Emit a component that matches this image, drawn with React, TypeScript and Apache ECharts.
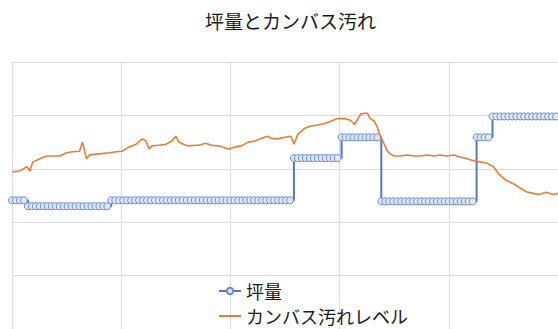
import React, { useEffect, useRef } from "react";
import * as echarts from "echarts";

const titleText = "坪量とカンバス汚れ";
const seriesNames = ["坪量", "カンバス汚れレベル"];

// 坪量: run-length levels (value, number of samples, 4 units apart)
const basisLevels = [24.1, 23.0, 24.1, 32.0, 35.9, 23.9, 35.9, 39.8];
const basisCounts = [4, 21, 46, 12, 10, 24, 4, 18];

// カンバス汚れレベル: [position, value]
const stainX = [
  0, 8, 15, 18, 21, 28, 35, 41, 48, 55, 61, 68, 71, 75, 78, 88, 98, 105, 111, 118,
  125, 131, 135, 138, 141, 148, 155, 161, 165, 168, 175, 178, 185, 188, 195, 201, 208,
  215, 218, 225, 231, 238, 245, 251, 258, 261, 268, 275, 281, 284, 288, 295, 301, 308,
  315, 321, 328, 335, 341, 345, 351, 355, 358, 361, 365, 368, 371, 375, 378, 381, 385,
  391, 398, 405, 411, 418, 425, 431, 438, 445, 451, 458, 465, 471, 478, 485, 491, 498,
  505, 511, 518, 525, 531, 538, 545, 550,
];
const stainY = [
  29.4, 29.6, 30.4, 29.6, 31.3, 31.9, 32.4, 32.4, 32.4, 33.0, 33.2, 33.3, 35.0, 31.9,
  32.6, 32.8, 33.0, 33.2, 33.3, 34.1, 34.6, 35.6, 35.2, 33.7, 34.3, 34.4, 34.6, 35.2,
  36.1, 35.0, 34.4, 34.3, 34.4, 34.4, 34.8, 34.4, 34.3, 33.9, 33.7, 34.1, 34.3, 35.0,
  35.2, 35.7, 36.1, 35.7, 35.6, 35.9, 36.1, 34.6, 36.5, 37.6, 38.0, 38.2, 38.5, 38.9,
  39.4, 39.4, 39.1, 38.3, 40.2, 40.4, 40.4, 39.4, 38.9, 37.8, 36.1, 34.6, 33.3, 32.8,
  32.4, 32.4, 32.6, 32.4, 32.4, 32.6, 32.4, 32.6, 32.4, 32.6, 32.2, 31.9, 31.5, 31.3,
  31.1, 30.4, 28.9, 27.8, 27.2, 26.5, 25.7, 25.4, 25.2, 25.6, 25.2, 25.4,
];

const SAMPLE_STEP = 4;

export default function App() {
  const ref = useRef<HTMLDivElement>(null);
  useEffect(() => {
    if (!ref.current) return;
    const chart = echarts.init(ref.current, undefined, { renderer: "svg" });

    const basisData: number[][] = [];
    let idx = 0;
    basisLevels.forEach((lv, i) => {
      for (let k = 0; k < basisCounts[i]; k++) {
        basisData.push([idx * SAMPLE_STEP, lv]);
        idx++;
      }
    });
    const stainData = stainX.map((x, i) => [x, stainY[i]]);

    chart.setOption({
      animation: false,
      backgroundColor: "#ffffff",
      title: {
        text: titleText,
        left: 205,
        top: 11,
        padding: 0,
        textStyle: {
          fontFamily: "Noto Sans CJK JP",
          fontSize: 19,
          fontWeight: "normal",
          color: "#1a1a1a",
        },
      },
      legend: {
        orient: "vertical",
        left: 218,
        top: 282,
        padding: 0,
        itemWidth: 22,
        itemHeight: 8,
        itemGap: 7,
        data: [
          { name: seriesNames[0] },
          { name: seriesNames[1], icon: "path://M0,0 L22,0 L22,2 L0,2 Z" },
        ],
        textStyle: {
          fontFamily: "Noto Sans CJK JP",
          fontSize: 18,
          color: "#1a1a1a",
        },
      },
      grid: { left: 12, top: 62, width: 550, height: 270, containLabel: false },
      xAxis: {
        type: "value",
        min: 0,
        max: 550,
        interval: 110,
        axisLine: { show: false },
        axisTick: { show: false },
        axisLabel: { show: false },
        splitLine: { show: true, lineStyle: { color: "#dcdcdc", width: 1 } },
      },
      yAxis: {
        type: "value",
        min: 0,
        max: 50,
        interval: 10,
        axisLine: { show: false },
        axisTick: { show: false },
        axisLabel: { show: false },
        splitLine: { show: true, lineStyle: { color: "#dcdcdc", width: 1 } },
      },
      series: [
        {
          name: seriesNames[0],
          type: "line",
          step: "end",
          data: basisData,
          symbol: "circle",
          symbolSize: 7,
          showAllSymbol: true,
          lineStyle: { color: "#5677c2", width: 2 },
          itemStyle: { color: "#dfe7f6", borderColor: "#6a8bd0", borderWidth: 1 },
          z: 2,
        },
        {
          name: seriesNames[1],
          type: "line",
          data: stainData,
          symbol: "none",
          lineStyle: { color: "#ED7D31", width: 1.6 },
          itemStyle: { color: "#ED7D31" },
          z: 3,
        },
      ],
    });
    return () => chart.dispose();
  }, []);
  return (
    <div
      ref={ref}
      style={{ position: "fixed", left: 0, top: 0, width: 558, height: 329 }}
    />
  );
}
